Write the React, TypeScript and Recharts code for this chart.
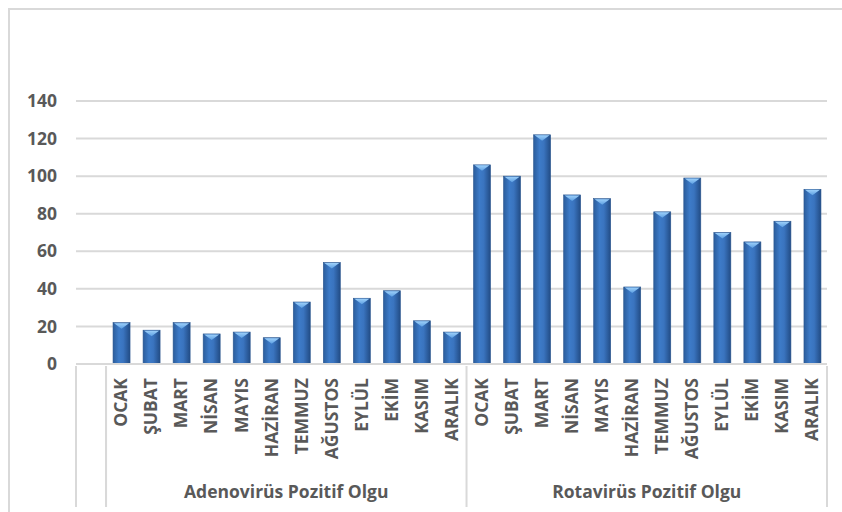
import { BarChart, Bar, XAxis, YAxis, CartesianGrid } from 'recharts';

const MONTHS = ['OCAK', 'ŞUBAT', 'MART', 'NİSAN', 'MAYIS', 'HAZİRAN', 'TEMMUZ', 'AĞUSTOS', 'EYLÜL', 'EKİM', 'KASIM', 'ARALIK'];
const GROUPS = ['Adenovirüs Pozitif Olgu', 'Rotavirüs Pozitif Olgu'];
const adenoValues = [22, 18, 22, 16, 17, 14, 33, 54, 35, 39, 23, 17];
const rotaValues = [106, 100, 122, 90, 88, 41, 81, 99, 70, 65, 76, 93];
const Y_TICKS = [0, 20, 40, 60, 80, 100, 120, 140];

// leading empty category, like the blank first row of the source sheet
const chartData = [
  { month: '', group: '', value: null as number | null },
  ...MONTHS.map((m, i) => ({ month: m, group: GROUPS[0], value: adenoValues[i] })),
  ...MONTHS.map((m, i) => ({ month: m, group: GROUPS[1], value: rotaValues[i] })),
];

const TEXT = '#595959';
const LINE = '#d9d9d9';
const FONT = '"Open Sans", "Liberation Sans", sans-serif';

const BevelBar = (props: any) => {
  const { x, y, width, height } = props;
  if (!height || height <= 0) return null;
  const tip = Math.min(6, height);
  return (
    <g>
      <rect x={x} y={y} width={width} height={height} fill="url(#barGrad)" stroke="#2a568f" strokeWidth={0.6} />
      <polygon
        points={`${x + 1},${y + 0.5} ${x + width - 1},${y + 0.5} ${x + width / 2},${y + tip}`}
        fill="url(#tipGrad)"
      />
    </g>
  );
};

const MonthTick = (props: any) => {
  const { x, y, payload, index, width } = props;
  const band = width / chartData.length;
  const left = x - band / 2;
  const bottom = y + 141;
  const row = chartData[index];
  const isGroupStart = row && row.month === MONTHS[0];
  const isLast = index === chartData.length - 1;
  return (
    <g>
      {(index === 0 || isGroupStart) && (
        <line x1={left} y1={y} x2={left} y2={bottom} stroke={LINE} strokeWidth={2} />
      )}
      {index === 0 && (
        <line x1={left + band} y1={y} x2={left + band} y2={bottom} stroke={LINE} strokeWidth={2} />
      )}
      {isLast && (
        <line x1={left + band} y1={y} x2={left + band} y2={bottom} stroke={LINE} strokeWidth={2} />
      )}
      {payload.value && (
        <text
          transform={`translate(${x}, ${y + 12}) rotate(-90)`}
          textAnchor="end"
          dy="0.36em"
          fill={TEXT}
          fontSize={17.5}
          fontWeight={700}
          fontFamily={FONT}
        >
          {payload.value}
        </text>
      )}
      {isGroupStart && (
        <text
          x={left + band * 6}
          y={y + 132}
          textAnchor="middle"
          fill={TEXT}
          fontSize={17.5}
          fontWeight={700}
          fontFamily={FONT}
        >
          {row.group}
        </text>
      )}
    </g>
  );
};

export default function App() {
  return (
    <div style={{ position: 'absolute', left: 0, top: 0, width: 842, height: 512, background: '#fff', overflow: 'hidden' }}>
      <div
        style={{
          position: 'absolute',
          left: 8,
          top: 8,
          width: 840,
          height: 520,
          borderLeft: `2px solid ${LINE}`,
          borderTop: `2px solid ${LINE}`,
        }}
      />
      <BarChart
        width={842}
        height={512}
        data={chartData}
        margin={{ top: 101, right: 15, left: 0, bottom: 0 }}
        barSize={17}
        style={{ position: 'absolute', left: 0, top: 0 }}
      >
        <defs>
          <linearGradient id="barGrad" x1="0" y1="0" x2="1" y2="0">
            <stop offset="0%" stopColor="#2b5d9c" />
            <stop offset="35%" stopColor="#3d7bc8" />
            <stop offset="60%" stopColor="#3a74bf" />
            <stop offset="100%" stopColor="#224c85" />
          </linearGradient>
          <linearGradient id="tipGrad" x1="0" y1="0" x2="0" y2="1">
            <stop offset="0%" stopColor="#9dd0fa" />
            <stop offset="100%" stopColor="#5d9fe2" />
          </linearGradient>
        </defs>
        <CartesianGrid vertical={false} stroke={LINE} strokeWidth={2} />
        <YAxis
          type="number"
          domain={[0, 140]}
          ticks={Y_TICKS}
          width={76}
          axisLine={false}
          tickLine={false}
          tickSize={0}
          tickMargin={19}
          tick={{ fill: TEXT, fontSize: 17.5, fontWeight: 700, fontFamily: FONT }}
        />
        <XAxis
          dataKey="month"
          interval={0}
          height={148}
          axisLine={{ stroke: LINE, strokeWidth: 2 }}
          tickLine={false}
          tickSize={0}
          tick={<MonthTick />}
          allowDuplicatedCategory
        />
        <Bar dataKey="value" shape={<BevelBar />} isAnimationActive={false} />
      </BarChart>
    </div>
  );
}
